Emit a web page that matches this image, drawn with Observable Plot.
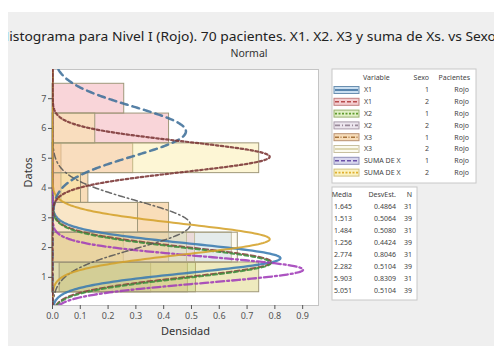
<!DOCTYPE html>
<html><head><meta charset="utf-8">
<script src="https://cdn.jsdelivr.net/npm/d3@7"></script>
<script src="https://cdn.jsdelivr.net/npm/@observablehq/plot@0.6"></script>
<style>
body{margin:0;background:#fff;}
#page{position:relative;width:494px;height:346px;overflow:hidden;background:#fff;font-family:"Noto Sans","Open Sans",sans-serif;}
#panel{position:absolute;left:8px;top:12px;right:0;bottom:0;background:#efefef;}
#chart,#over{position:absolute;left:0;top:0;}
</style></head>
<body><div id="page"><div id="panel"></div><div id="chart"></div><svg id="over" width="494" height="346"></svg></div>
<script>
// ---- data ----
const variables = ["X1","X1","X2","X2","X3","X3","SUMA DE X","SUMA DE X"];
const sexo = [1,2,1,2,1,2,1,2];
const pacientes = ["Rojo","Rojo","Rojo","Rojo","Rojo","Rojo","Rojo","Rojo"];
const medias = [1.645,1.513,1.484,1.256,2.774,2.282,5.903,5.051];
const desvEst = [0.4864,0.5064,0.5080,0.4424,0.8046,0.5104,0.8309,0.5104];
const nPac = [31,39,31,39,31,39,31,39];
const bins = [1,2,3,4,5,6,7];
const countsX1s1 = [11,20,0,0,0,0,0];
const countsX1s2 = [19,20,0,0,0,0,0];
const countsX2s1 = [16,15,0,0,0,0,0];
const countsX2s2 = [29,10,0,0,0,0,0];
const countsX3s1 = [0,13,13,4,1,0,0];
const countsX3s2 = [1,26,12,0,0,0,0];
const countsSUMAs1 = [0,0,0,1,9,13,8];
const countsSUMAs2 = [0,0,0,4,29,6,0];
const xTicks = [0,0.1,0.2,0.3,0.4,0.5,0.6,0.7,0.8,0.9];
const yTicks = [1,2,3,4,5,6,7];

const counts = [countsX1s1,countsX1s2,countsX2s1,countsX2s2,countsX3s1,countsX3s2,countsSUMAs1,countsSUMAs2];

// ---- styles ----
const barFill = ["#96bee6","#f0a0aa","#bedc96","#d4ca5c","#f0aa50","#faf5dc","#f096a0","#fae896"];
const curveColor = ["#3a7bb0","#8a3d3d","#3f8f3f","#a03cb8","#555555","#d4a22a","#3f6f9a","#7b3535"];
const curveDash = [null,"5,3","4,3","8,3,2,3","6,3,1.5,3",null,"7,5","2.5,2.5"];
const curveWidth = [2.3,2,2,2.3,1.5,2,2.5,2.2];
const legFill = ["#c9def0","#f4cdd0","#e1efc6","#ece6ee","#f7dcb8","#fbfaf0","#d8d6ee","#fbf2c0"];
const legStroke = ["#6a8fb0","#c08080","#99b070","#a89aa8","#b89070","#c8c0a0","#9090b8","#d0c080"];
const legLine = ["#3c6e9e","#b84c4c","#5f9c2f","#9a8a9a","#a8743c","#d6cfa0","#6a50a8","#e0b030"];
const legDash = [null,"4,2","2,1.5","5,2,1,2","4,1.5,1,1.5",null,"4,2","2,1.5"];

const yDomain = [0.055, 7.98];
const xDomain = [0, 0.957];

const marks = [Plot.frame({fill:"white", stroke:"#c4c4c4"})];
counts.forEach((c, g) => {
  const rows = [];
  bins.forEach((b, i) => { if (c[i] > 0) rows.push({y1: b - 0.5, y2: b + 0.5, d: c[i] / nPac[g]}); });
  marks.push(Plot.rect(rows, {x1: 0, x2: "d", y1: "y1", y2: "y2", fill: barFill[g], fillOpacity: 0.4, stroke: "#a0987a", strokeWidth: 1}));
});
const ys = d3.range(yDomain[0], yDomain[1] + 0.001, 0.02);
medias.forEach((m, g) => {
  const s = desvEst[g];
  const pts = ys.map(y => ({y, d: Math.exp(-0.5 * ((y - m) / s) ** 2) / (s * Math.sqrt(2 * Math.PI))}));
  marks.push(Plot.line(pts, {x: "d", y: "y", stroke: curveColor[g], strokeWidth: curveWidth[g], strokeOpacity: 0.88, strokeDasharray: curveDash[g], clip: "frame"}));
});
marks.push(Plot.axisX({ticks: xTicks, tickFormat: d3.format(".1f"), tickSize: 4, tickPadding: 3, fontSize: 9, color: "#555", label: null}));
marks.push(Plot.axisY({ticks: yTicks, tickSize: 4, tickPadding: 2, fontSize: 9, color: "#555", label: null}));
marks.push(Plot.text(["Densidad"], {frameAnchor: "bottom", dy: 26, lineAnchor: "middle", fontSize: 11, fill: "#333"}));
marks.push(Plot.text(["Datos"], {frameAnchor: "left", dx: -24.5, rotate: -90, fontSize: 11, fill: "#333"}));

const chart = Plot.plot({
  width: 494, height: 346,
  marginLeft: 52, marginRight: 176, marginTop: 69, marginBottom: 41,
  style: {background: "transparent", fontFamily: "'Noto Sans', sans-serif"},
  x: {domain: xDomain},
  y: {domain: yDomain},
  marks
});
document.getElementById("chart").appendChild(chart);

// ---- title, subtitle, legends ----
const over = d3.select("#over").style("font-family", "'Noto Sans', sans-serif");
over.append("defs").append("clipPath").attr("id", "pc").append("rect").attr("x", 8).attr("y", 12).attr("width", 486).attr("height", 334);
over.append("text").attr("clip-path", "url(#pc)").attr("x", -1).attr("y", 40.5).attr("font-size", 13).attr("fill", "#222")
  .attr("textLength", 497).attr("lengthAdjust", "spacingAndGlyphs")
  .text("Histograma para Nivel I (Rojo). 70 pacientes. X1. X2. X3 y suma de Xs. vs Sexo");
over.append("text").attr("x", 249).attr("y", 57).attr("text-anchor", "middle").attr("font-size", 10.5).attr("fill", "#333").text("Normal");

const lg = over.append("g").attr("font-size", 7).attr("fill", "#444");
lg.append("rect").attr("x", 332).attr("y", 69).attr("width", 144).attr("height", 114).attr("fill", "white").attr("stroke", "#c8c8c8");
const h1 = 78;
lg.append("text").attr("x", 363).attr("y", h1).attr("dy", "0.35em").text("Variable");
lg.append("text").attr("x", 429).attr("y", h1).attr("dy", "0.35em").attr("text-anchor", "end").text("Sexo");
lg.append("text").attr("x", 470).attr("y", h1).attr("dy", "0.35em").attr("text-anchor", "end").text("Pacientes");
variables.forEach((v, g) => {
  const yc = 90 + g * 11.8;
  lg.append("rect").attr("x", 334).attr("y", yc - 3.5).attr("width", 25).attr("height", 7).attr("fill", legFill[g]).attr("stroke", legStroke[g]).attr("stroke-width", 1);
  lg.append("line").attr("x1", 335).attr("x2", 358).attr("y1", yc).attr("y2", yc).attr("stroke", legLine[g]).attr("stroke-width", 1.6).attr("stroke-dasharray", legDash[g]);
  lg.append("text").attr("x", 364).attr("y", yc).attr("dy", "0.35em").text(v);
  lg.append("text").attr("x", 429).attr("y", yc).attr("dy", "0.35em").attr("text-anchor", "end").text(sexo[g]);
  lg.append("text").attr("x", 469).attr("y", yc).attr("dy", "0.35em").attr("text-anchor", "end").text(pacientes[g]);
});
lg.append("rect").attr("x", 332).attr("y", 187).attr("width", 85).attr("height", 113).attr("fill", "white").attr("stroke", "#c8c8c8");
const h2 = 194.5;
lg.append("text").attr("x", 352).attr("y", h2).attr("dy", "0.35em").attr("text-anchor", "end").text("Media");
lg.append("text").attr("x", 396).attr("y", h2).attr("dy", "0.35em").attr("text-anchor", "end").text("DesvEst.");
lg.append("text").attr("x", 412).attr("y", h2).attr("dy", "0.35em").attr("text-anchor", "end").text("N");
medias.forEach((m, g) => {
  const yc = 207 + g * 12;
  lg.append("text").attr("x", 352).attr("y", yc).attr("dy", "0.35em").attr("text-anchor", "end").text(m.toFixed(3));
  lg.append("text").attr("x", 396).attr("y", yc).attr("dy", "0.35em").attr("text-anchor", "end").text(desvEst[g].toFixed(4));
  lg.append("text").attr("x", 412).attr("y", yc).attr("dy", "0.35em").attr("text-anchor", "end").text(nPac[g]);
});
</script></body></html>
